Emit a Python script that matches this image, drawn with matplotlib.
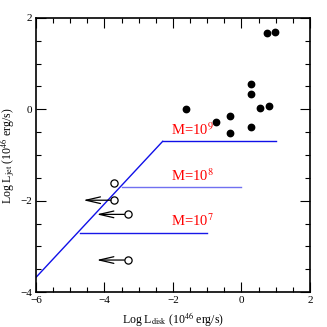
import matplotlib
matplotlib.use('Agg')
import matplotlib.pyplot as plt
from matplotlib.ticker import MultipleLocator

plt.rcParams['font.family'] = ['Liberation Serif', 'DejaVu Serif']
plt.rcParams['mathtext.fontset'] = 'stix'
plt.rcParams['font.size'] = 8

# detected sources
det_x = [-1.63, -0.75, -0.33, -0.33, 0.29, 0.29, 0.29, 0.55, 0.81, 0.74, 0.98]
det_y = [0.00, -0.28, -0.15, -0.52, 0.55, 0.34, -0.39, 0.04, 0.08, 1.67, 1.69]

# open circles, some are upper limits in L_disk
lim_x = [-3.71, -3.71, -3.32, -3.32]
lim_y = [-1.62, -1.99, -2.30, -3.30]
lim_tip = [None, -4.62, -4.23, -4.23]

# model curves
diag_x = [-6.0, -2.3]
diag_y = [-3.68, -0.70]
mass_lab = ['9', '8', '7']
mass_y = [-0.70, -1.70, -2.70]
mass_x0 = [-2.3, -3.5, -4.72]
mass_x1 = [1.0, 0.0, -1.0]
mass_col = ['#1010e8', '#7070f0', '#1818e8']

fig = plt.figure(figsize=(3.27, 3.27), dpi=100)
ax = fig.add_axes([0.110, 0.107, 0.838, 0.838])

ax.plot(diag_x, diag_y, color='#1010e8', lw=1.0)
for lab, y, x0, x1, c in zip(mass_lab, mass_y, mass_x0, mass_x1, mass_col):
    ax.plot([x0, x1], [y, y], color=c, lw=1.0)
    ax.text(-2.05, y + 0.07, r'M=10$^{%s}$' % lab, color='red', fontsize=10.5,
            ha='left', va='bottom')

ax.plot(det_x, det_y, 'o', color='black', ms=4.6)
ax.plot(lim_x, lim_y, 'o', mfc='white', mec='black', ms=5.2, mew=0.9)
for x, y, t in zip(lim_x, lim_y, lim_tip):
    if t is None:
        continue
    ax.annotate('', xy=(t, y), xytext=(x - 0.1, y),
                arrowprops=dict(arrowstyle='->,head_length=1.3,head_width=0.3',
                                lw=0.9, color='black', shrinkA=0, shrinkB=0))

ax.set_xlim(-6, 2)
ax.set_ylim(-4, 2)
ax.xaxis.set_major_locator(MultipleLocator(2))
ax.xaxis.set_minor_locator(MultipleLocator(0.5))
ax.yaxis.set_major_locator(MultipleLocator(2))
ax.yaxis.set_minor_locator(MultipleLocator(0.5))
ax.tick_params(which='both', direction='in', top=True, right=True, width=0.8)
ax.tick_params(which='major', length=7, labelsize=8, pad=3)
ax.tick_params(which='minor', length=3.5)
for s in ax.spines.values():
    s.set_linewidth(1.2)

fig.text(0.529, 0.025, r'Log L$_{\rm disk}$ (10$^{46}$ erg/s)', fontsize=8.5,
         ha='center', va='center')
fig.text(0.024, 0.525, r'Log L$_{\rm jet}$ (10$^{46}$ erg/s)', fontsize=8.5,
         ha='center', va='center', rotation=90)

fig.savefig('out.png', dpi=100)
